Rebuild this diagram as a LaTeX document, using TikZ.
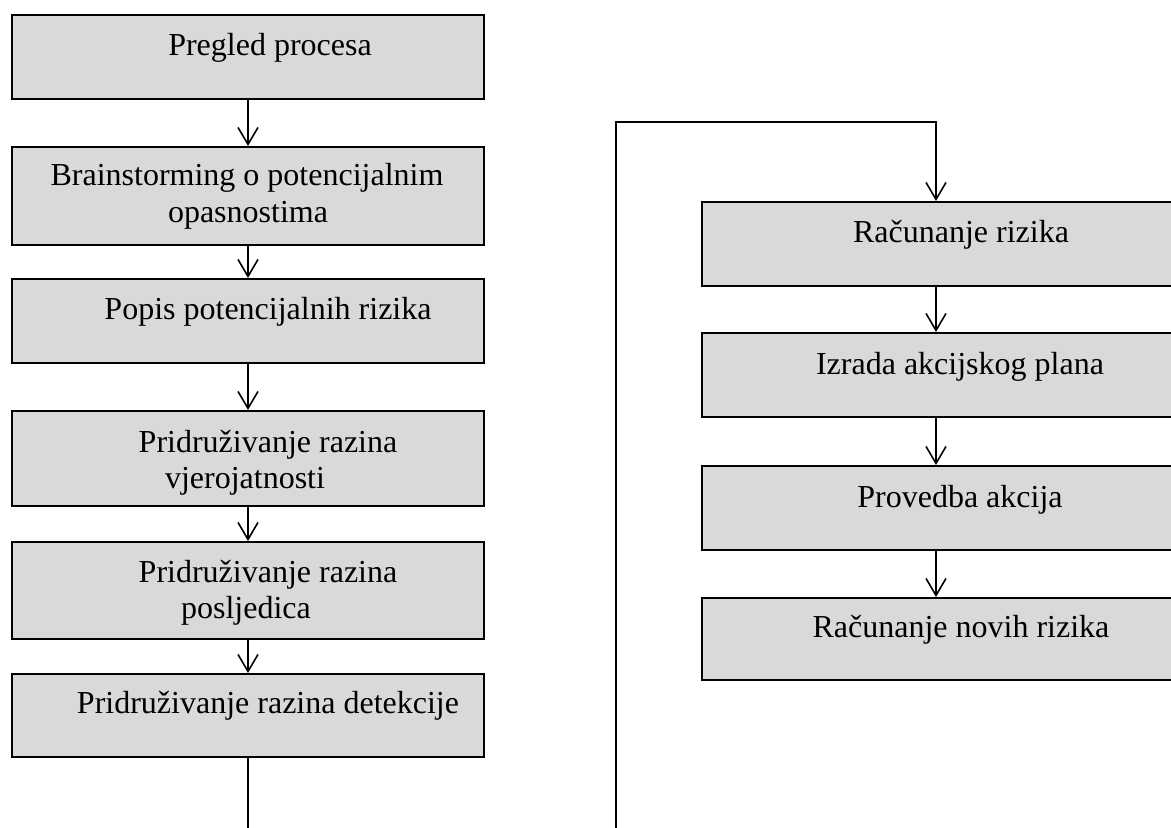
\documentclass[tikz,border=0pt]{standalone}
\usepackage{fontspec}
\setmainfont{Liberation Serif}
\usetikzlibrary{arrows.meta}
\definecolor{boxfill}{HTML}{D9D9D9}
\tikzset{
  stepbox/.style={draw=black, line width=2pt, fill=boxfill, rectangle, inner sep=0pt},
  lbox/.style={stepbox, minimum width=472pt},
  rbox/.style={stepbox, minimum width=516pt},
  lbl/.style={anchor=base, inner sep=0pt, font=\fontsize{32}{37}\selectfont},
  conn/.style={line width=1.6pt, draw=black},
  arr/.style={conn, -{Straight Barb[length=17pt, width=20pt, line width=1.6pt]}}
}
\begin{document}
\begin{tikzpicture}[x=1pt, y=-1pt]
\useasboundingbox (0,0) rectangle (1171,828);
\clip (0,0) rectangle (1171,828);
% left column boxes
\node[lbox, minimum height=84pt] (b1) at (248,57) {};
\node[lbox, minimum height=98pt] (b2) at (248,196) {};
\node[lbox, minimum height=84pt] (b3) at (248,321) {};
\node[lbox, minimum height=95pt] (b4) at (248,458.5) {};
\node[lbox, minimum height=97pt] (b5) at (248,590.5) {};
\node[lbox, minimum height=83pt] (b6) at (248,715.5) {};
% right column boxes
\node[rbox, minimum height=84pt] (r1) at (960,244) {};
\node[rbox, minimum height=84pt] (r2) at (960,375) {};
\node[rbox, minimum height=84pt] (r3) at (960,508) {};
\node[rbox, minimum height=82pt] (r4) at (960,639) {};
% labels
\node[lbl] (t1) at (270,55) {Pregled procesa};
\node[lbl] (t2a) at (247,185) {Brainstorming o potencijalnim};
\node[lbl] (t2b) at (248,222) {opasnostima};
\node[lbl] (t3) at (268,319) {Popis potencijalnih rizika};
\node[lbl] (t4a) at (268,452) {Pridruživanje razina};
\node[lbl] (t4b) at (245,488) {vjerojatnosti};
\node[lbl] (t5a) at (268,582) {Pridruživanje razina};
\node[lbl] (t5b) at (246,618) {posljedica};
\node[lbl] (t6) at (268,713) {Pridruživanje razina detekcije};
\node[lbl] (s1) at (961,242) {Računanje rizika};
\node[lbl] (s2) at (960,374) {Izrada akcijskog plana};
\node[lbl] (s3) at (960,507) {Provedba akcija};
\node[lbl] (s4) at (961,637) {Računanje novih rizika};
% coordinates for free ends
\coordinate (lend) at (248,828);
\coordinate (rstart) at (616,828);
\coordinate (rtop) at (616,122);
% left connectors
\draw[arr] (b1.south) -- (b2.north);
\draw[arr] (b2.south) -- (b3.north);
\draw[arr] (b3.south) -- (b4.north);
\draw[arr] (b4.south) -- (b5.north);
\draw[arr] (b5.south) -- (b6.north);
\draw[conn] (b6.south) -- (lend);
% right connectors
\draw[arr] (rstart) -- (rtop) -| ([xshift=-24pt]r1.north);
\draw[arr] ([xshift=-24pt]r1.south) -- ([xshift=-24pt]r2.north);
\draw[arr] ([xshift=-24pt]r2.south) -- ([xshift=-24pt]r3.north);
\draw[arr] ([xshift=-24pt]r3.south) -- ([xshift=-24pt]r4.north);
\end{tikzpicture}
\end{document}
